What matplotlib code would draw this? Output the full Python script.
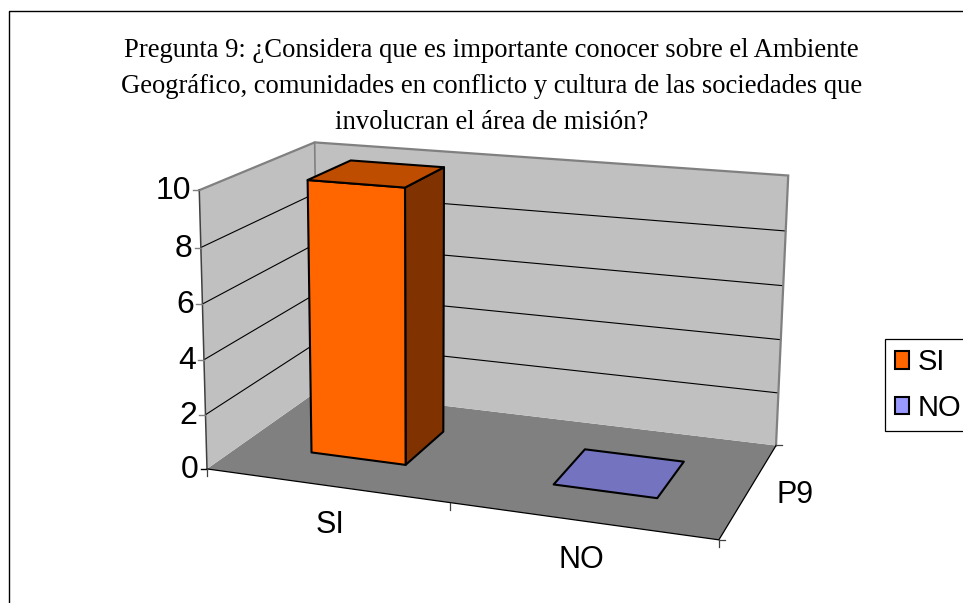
import matplotlib
matplotlib.use('Agg')
import matplotlib.pyplot as plt
from matplotlib.patches import Patch, Polygon
import numpy as np

title = ('Pregunta 9: ¿Considera que es importante conocer sobre el Ambiente\n'
         'Geográfico, comunidades en conflicto y cultura de las sociedades que\n'
         'involucran el área de misión?')
categories = ['SI', 'NO']
values = [10, 0]
value_ticks = [0, 2, 4, 6, 8, 10]
depth_label = 'P9'
front_colors = ['#FF6600', '#9999FF']
top_colors = ['#BF4D00', '#7373BF']
side_colors = ['#803300', '#4D4D80']
ymax = 10.0

# corners of the 3d box: (category, value, depth) -> pixel
box = [((0, 0, 0), (209, 469)), ((1, 0, 0), (718, 541)), ((1, 0, 1), (777, 444)),
       ((0, 0, 1), (316, 391)), ((0, 1, 0), (198, 189)), ((0, 1, 1), (316, 143)),
       ((1, 1, 1), (788, 176))]

rows = []
for (u, v, d), (px, py) in box:
    rows.append([u, v, d, 1, 0, 0, 0, 0, -px*u, -px*v, -px*d, -px])
    rows.append([0, 0, 0, 0, u, v, d, 1, -py*u, -py*v, -py*d, -py])
P = np.linalg.svd(np.array(rows, dtype=float))[2][-1].reshape(3, 4)


def proj(u, val, d):
    p = P @ np.array([u, val/ymax, d, 1.0])
    return p[0]/p[2], p[1]/p[2]


fig = plt.figure(figsize=(9.63, 6.03), dpi=100)
ax = fig.add_axes([0, 0, 1, 1])
ax.set_xlim(0, 963)
ax.set_ylim(603, 0)
ax.axis('off')

# chart frame
ax.plot([9, 9, 963], [603, 10.5, 10.5], color='k', lw=1.0)

ax.text(491.5, 38, title, family='Liberation Serif', fontsize=19.2, ha='center', va='top',
        linespacing=1.58)

# walls and floor
ax.add_patch(Polygon([proj(0, 0, 0), proj(1, 0, 0), proj(1, 0, 1), proj(0, 0, 1)], fc='#808080', ec='none'))
ax.add_patch(Polygon([proj(0, 0, 0), proj(0, ymax, 0), proj(0, ymax, 1), proj(0, 0, 1)], fc='#C0C0C0', ec='none'))
ax.add_patch(Polygon([proj(0, 0, 1), proj(0, ymax, 1), proj(1, ymax, 1), proj(1, 0, 1)], fc='#C0C0C0', ec='none'))

# gridlines
for t in value_ticks[1:-1]:
    pts = np.array([proj(0, t, 0), proj(0, t, 1), proj(1, t, 1)])
    ax.plot(pts[:, 0], pts[:, 1], color='k', lw=0.8)

# wall edges
pts = np.array([proj(0, ymax, 0), proj(0, ymax, 1), proj(1, ymax, 1), proj(1, 0, 1)])
ax.plot(pts[:, 0], pts[:, 1], color='#808080', lw=1.6, solid_joinstyle='miter')
pts = np.array([proj(0, ymax, 1), proj(0, 0, 1)])
ax.plot(pts[:, 0], pts[:, 1], color='#808080', lw=1.2)

# bars
bw = 0.2
for i, val in enumerate(values):
    u0 = (i + 0.5)/len(categories) - bw/2
    u1 = u0 + bw
    d0, d1 = 0.3, 0.7
    if val > 0:
        ax.add_patch(Polygon([proj(u1, 0, d0), proj(u1, val, d0), proj(u1, val, d1), proj(u1, 0, d1)],
                             fc=side_colors[i], ec='k', lw=1.5, joinstyle='round', zorder=3))
        ax.add_patch(Polygon([proj(u0, 0, d0), proj(u0, val, d0), proj(u1, val, d0), proj(u1, 0, d0)],
                             fc=front_colors[i], ec='k', lw=1.5, joinstyle='round', zorder=3))
    ax.add_patch(Polygon([proj(u0, val, d0), proj(u1, val, d0), proj(u1, val, d1), proj(u0, val, d1)],
                         fc=top_colors[i], ec='k', lw=1.5, joinstyle='round', zorder=3))

# axes
pts = np.array([proj(0, 0, 0), proj(1, 0, 0), proj(1, 0, 1)])
ax.plot(pts[:, 0], pts[:, 1], color='k', lw=0.9)
pts = np.array([proj(0, ymax, 0), proj(0, 0, 0)])
ax.plot(pts[:, 0], pts[:, 1], color='#404040', lw=1.1)

# value ticks and labels
for t in value_ticks:
    x, y = proj(0, t, 0)
    ax.plot([x - 6, x], [y, y], color='#808080' if t else 'k', lw=1.0)
    ax.text(x - 8, y + 1, str(t), family='Liberation Sans', fontsize=23, ha='right', va='center')

# category ticks and labels
for u in [0, 0.5, 1]:
    x, y = proj(u, 0, 0)
    ax.plot([x, x], [y, y + 7], color='#404040', lw=0.9)
label_pos = [0.26, 0.75]
for i, c in enumerate(categories):
    x, y = proj(label_pos[i], 0, 0)
    ax.text(x, y + 39, c, family='Liberation Sans', fontsize=22, ha='center', va='center')

# depth ticks and label
for d in [0, 1]:
    x, y = proj(1, 0, d)
    ax.plot([x, x + 6], [y, y], color='#404040', lw=0.9)
x, y = proj(1, 0, 0.5)
ax.text(x + 46, y + 5, depth_label, family='Liberation Sans', fontsize=22, ha='center', va='center')

handles = [Patch(fc=front_colors[i], ec='k', lw=1.5, label=categories[i]) for i in range(len(categories))]
leg = ax.legend(handles=handles, loc='upper left', bbox_to_anchor=(885, 338.5),
                bbox_transform=ax.transData, borderaxespad=0, fancybox=False, framealpha=1,
                edgecolor='k', prop={'family': 'Liberation Sans', 'size': 21},
                handlelength=0.5, handleheight=0.55, handletextpad=0.28,
                borderpad=0.33, labelspacing=0.6)
leg.get_frame().set_linewidth(0.9)

plt.savefig('out.png', dpi=100)
